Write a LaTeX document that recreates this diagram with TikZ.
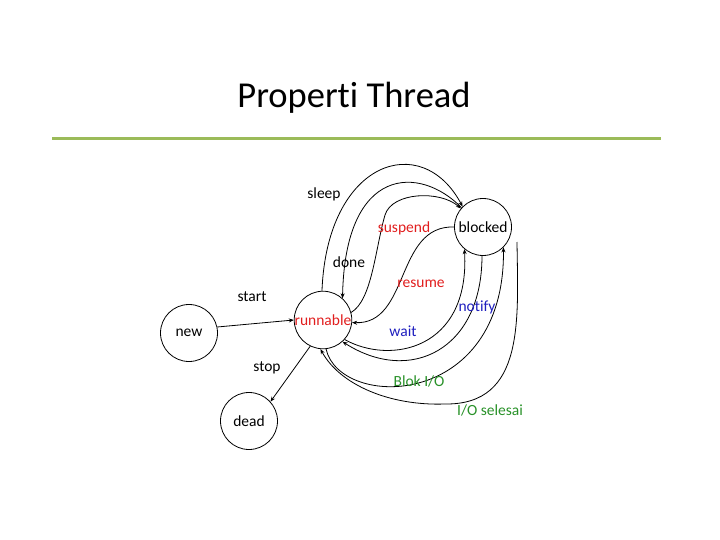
\documentclass[tikz,border=0pt]{standalone}
\usepackage{fontspec}
\setmainfont[Ligatures=NoCommon]{Carlito}
\usepackage{xcolor}
\usepackage{tikz}
\usetikzlibrary{arrows.meta}
\definecolor{cred}{RGB}{225,30,30}
\definecolor{cblue}{RGB}{30,30,190}
\definecolor{cgreen}{RGB}{40,145,40}
\definecolor{rulegreen}{RGB}{155,187,89}
\tikzset{
  stnode/.style={circle, draw=black, line width=0.8pt, minimum size=57pt, inner sep=0pt, font=\fontsize{15.5}{18}\selectfont},
  lbl/.style={inner sep=0pt, font=\fontsize{15.5}{18}\selectfont},
  arr/.style={-{Stealth[length=5pt,width=4pt]}, line width=0.8pt, draw=black},
}
\begin{document}
\begin{tikzpicture}[x=1pt, y=-1pt]
  \useasboundingbox (0,0) rectangle (720,540);
  % title and rule
  \node[inner sep=0pt, font=\fontsize{36.5}{40}\selectfont] (title) at (354,98) {Properti Thread};
  \coordinate (ruleL) at (52,139);
  \coordinate (ruleR) at (661,139);
  \draw[rulegreen, line width=3pt] (ruleL) -- (ruleR);

  % states
  \node[stnode] (new) at (189,333) {new};
  \node[stnode, text=cred] (runnable) at (323,320) {runnable};
  \node[stnode] (blocked) at (483,227) {blocked};
  \node[stnode] (dead) at (249,421) {dead};
  \coordinate (ioStart) at (517,242);

  % transitions
  \draw[arr] (new.12) -- (runnable.180);
  \draw[arr] (runnable.-116) -- (dead.42);
  \draw[arr] (runnable.92) .. controls (327,160) and (422,130) .. (blocked.135);
  \draw[arr] (blocked.138) .. controls (420,165) and (345,165) .. (runnable.48);
  \draw[arr] (runnable.15) .. controls (372,300) and (375,250) .. (385,215)
                           .. controls (392,192) and (440,190) .. (blocked.140);
  \draw[arr] (blocked.180) .. controls (395,225) and (410,325) .. (runnable.-5);
  \draw[arr] (runnable.-42) .. controls (390,365) and (470,350) .. (blocked.-130);
  \draw[arr] (blocked.-92) .. controls (482,350) and (410,385) .. (runnable.-48);
  \draw[arr] (runnable.-84) .. controls (340,410) and (505,410) .. (blocked.-45);
  \draw[arr] (ioStart) .. controls (518,320) and (525,405) .. (445,404)
                       .. controls (390,406) and (340,385) .. (runnable.-95);

  % labels
  \node[lbl] (lstart) at (252,297) {start};
  \node[lbl] (lstop) at (267,368) {stop};
  \node[lbl] (lsleep) at (324,194) {sleep};
  \node[lbl] (ldone) at (349,262) {done};
  \node[lbl, text=cred] (lsuspend) at (404,228) {suspend};
  \node[lbl, text=cred] (lresume) at (421,284) {resume};
  \node[lbl, text=cblue] (lwait) at (403,331) {wait};
  \node[lbl, text=cblue] (lnotify) at (477,307) {notify};
  \node[lbl, text=cgreen] (lblok) at (419,381) {Blok I/O};
  \node[lbl, text=cgreen] (lselesai) at (490,410) {I/O selesai};
\end{tikzpicture}
\end{document}
